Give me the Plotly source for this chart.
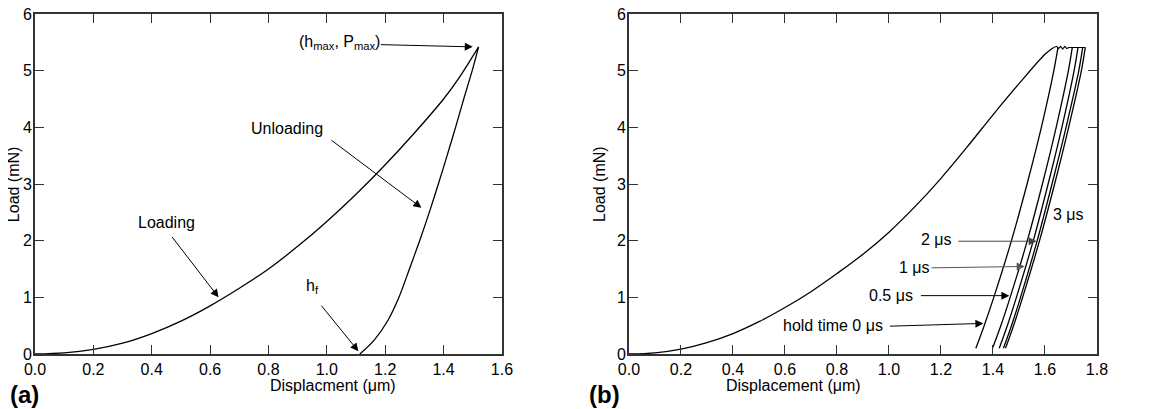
import plotly.graph_objects as go

# panel (a): loading / unloading curve
load_a_x = [0.0, 0.1, 0.2, 0.3, 0.4, 0.5, 0.6, 0.7, 0.8, 0.9, 1.0, 1.1, 1.2, 1.3, 1.4, 1.45, 1.52]
load_a_y = [0.0, 0.02, 0.08, 0.19, 0.36, 0.58, 0.85, 1.16, 1.5, 1.9, 2.34, 2.82, 3.34, 3.9, 4.5, 4.85, 5.42]
unload_a_x = [1.52, 1.498, 1.469, 1.441, 1.412, 1.382, 1.351, 1.318, 1.283, 1.247, 1.21, 1.163, 1.113]
unload_a_y = [5.42, 5.0, 4.5, 4.0, 3.5, 3.0, 2.5, 2.0, 1.5, 1.0, 0.6, 0.25, 0.0]

# panel (b): loading up to the hold, then the hold plateau
load_b_x = [0.0, 0.1, 0.2, 0.3, 0.4, 0.5, 0.6, 0.7, 0.8, 0.9, 1.0, 1.1, 1.2, 1.3, 1.4, 1.5, 1.6, 1.633]
load_b_y = [0.0, 0.02, 0.086, 0.2, 0.36, 0.57, 0.82, 1.1, 1.42, 1.76, 2.15, 2.6, 3.1, 3.65, 4.22, 4.77, 5.29, 5.41]
hold_x = [1.633, 1.645, 1.652, 1.66, 1.668, 1.676, 1.684, 1.692, 1.755]
hold_y = [5.41, 5.43, 5.39, 5.43, 5.38, 5.43, 5.39, 5.41, 5.41]

hold_times = ["0", "0.5", "1", "2", "3"]
unload_b_y = [0.1, 0.5, 1.0, 2.0, 3.0, 4.0, 5.0, 5.41]
unload_b_x = {
    "0":   [1.334, 1.366, 1.403, 1.471, 1.531, 1.586, 1.634, 1.650],
    "0.5": [1.398, 1.430, 1.466, 1.532, 1.590, 1.643, 1.690, 1.705],
    "1":   [1.424, 1.455, 1.490, 1.555, 1.612, 1.665, 1.712, 1.727],
    "2":   [1.440, 1.471, 1.506, 1.570, 1.627, 1.681, 1.730, 1.745],
    "3":   [1.448, 1.479, 1.514, 1.579, 1.637, 1.691, 1.740, 1.755],
}

line = dict(color="black", width=1.3, shape="spline", smoothing=0.9)

fig = go.Figure()
fig.add_trace(go.Scatter(x=load_a_x, y=load_a_y, mode="lines", line=line, xaxis="x", yaxis="y"))
fig.add_trace(go.Scatter(x=unload_a_x, y=unload_a_y, mode="lines", line=line, xaxis="x", yaxis="y"))
fig.add_trace(go.Scatter(x=load_b_x, y=load_b_y, mode="lines", line=line, xaxis="x2", yaxis="y2"))
fig.add_trace(go.Scatter(x=hold_x, y=hold_y, mode="lines",
                         line=dict(color="black", width=1.1), xaxis="x2", yaxis="y2"))
for t in hold_times:
    fig.add_trace(go.Scatter(x=unload_b_x[t], y=unload_b_y, mode="lines", line=line,
                             xaxis="x2", yaxis="y2"))

font = dict(family="Liberation Sans, Arial, sans-serif", size=16, color="black")

axis_style = dict(showline=True, linecolor="#333333", linewidth=1.6, mirror="allticks",
                  ticks="inside", ticklen=9, tickcolor="#333333", tickwidth=1.4,
                  showgrid=False, zeroline=False, tickfont=font, automargin=False,
                  ticklabeloverflow="allow")

# page adds an 8px body margin, so the figure is drawn 8px smaller
fig.update_layout(
    width=1159, height=401,
    margin=dict(l=27, r=70, t=6, b=55),
    paper_bgcolor="white", plot_bgcolor="white",
    showlegend=False,
    font=font,
    xaxis=dict(domain=[0, 0.4397], range=[0, 1.6], dtick=0.2, tickformat=".1f", **axis_style),
    yaxis=dict(domain=[0, 1], range=[0, 6], dtick=1, ticklabelstandoff=-2, **axis_style),
    xaxis2=dict(domain=[0.5593, 1], range=[0, 1.8], dtick=0.2, tickformat=".1f", anchor="y2",
                **axis_style),
    yaxis2=dict(domain=[0, 1], range=[0, 6], dtick=1, anchor="x2", ticklabelstandoff=-2,
                **axis_style),
)

# axis titles
fig.add_annotation(xref="paper", yref="paper", x=0.219, y=-0.094, text="Displacment (μm)",
                   showarrow=False, font=font, yanchor="middle")
fig.add_annotation(xref="paper", yref="paper", x=0.78, y=-0.094, text="Displacement (μm)",
                   showarrow=False, font=font, yanchor="middle")
fig.add_annotation(xref="paper", yref="paper", x=-0.0295, y=0.5, text="Load (mN)", textangle=-90,
                   showarrow=False, font=font, xanchor="left", borderpad=0)
fig.add_annotation(xref="paper", yref="paper", x=0.531, y=0.5, text="Load (mN)", textangle=-90,
                   showarrow=False, font=font, xanchor="center", borderpad=0)

# text labels
texts = [
    ("x", "y", 1.045, 5.49, "(h<sub>max</sub>, P<sub>max</sub>)"),
    ("x", "y", 0.863, 3.98, "Unloading"),
    ("x", "y", 0.45, 2.32, "Loading"),
    ("x", "y", 0.952, 1.2, "h<sub>f</sub>"),
    ("x2", "y2", 1.691, 2.47, "3 μs"),
    ("x2", "y2", 1.184, 2.02, "2 μs"),
    ("x2", "y2", 1.098, 1.53, "1 μs"),
    ("x2", "y2", 1.008, 1.03, "0.5 μs"),
    ("x2", "y2", 0.786, 0.51, "hold time 0 μs"),
]
for xr, yr, x, y, s in texts:
    fig.add_annotation(xref=xr, yref=yr, x=x, y=y, text=s, showarrow=False, font=font)

# arrows: (axis, tail x, tail y, tip x, tip y, colour)
arrows = [
    ("x", "y", 1.18, 5.46, 1.50, 5.42, "black"),
    ("x", "y", 1.011, 3.79, 1.324, 2.58, "black"),
    ("x", "y", 0.466, 2.09, 0.629, 1.0, "black"),
    ("x", "y", 0.977, 0.88, 1.108, 0.05, "black"),
    ("x2", "y2", 1.261, 1.99, 1.568, 1.99, "#444444"),
    ("x2", "y2", 1.158, 1.52, 1.522, 1.545, "#555555"),
    ("x2", "y2", 1.117, 1.03, 1.463, 1.03, "black"),
    ("x2", "y2", 0.998, 0.49, 1.363, 0.54, "black"),
]
for xr, yr, tx, ty, hx, hy, c in arrows:
    fig.add_annotation(xref=xr, yref=yr, axref=xr, ayref=yr, x=hx, y=hy, ax=tx, ay=ty,
                       text="", showarrow=True, arrowhead=2, arrowsize=1.6,
                       arrowwidth=1, arrowcolor=c)

# panel letters
bold = dict(family="Liberation Sans, Arial, sans-serif", size=24, color="black")
fig.add_annotation(xref="paper", yref="paper", x=-0.0254, y=-0.12, xanchor="left", yanchor="middle",
                   text="<b>(a)</b>", showarrow=False, font=bold)
fig.add_annotation(xref="paper", yref="paper", x=0.52, y=-0.12, xanchor="left", yanchor="middle",
                   text="<b>(b)</b>", showarrow=False, font=bold)

fig.write_html("out.html")
